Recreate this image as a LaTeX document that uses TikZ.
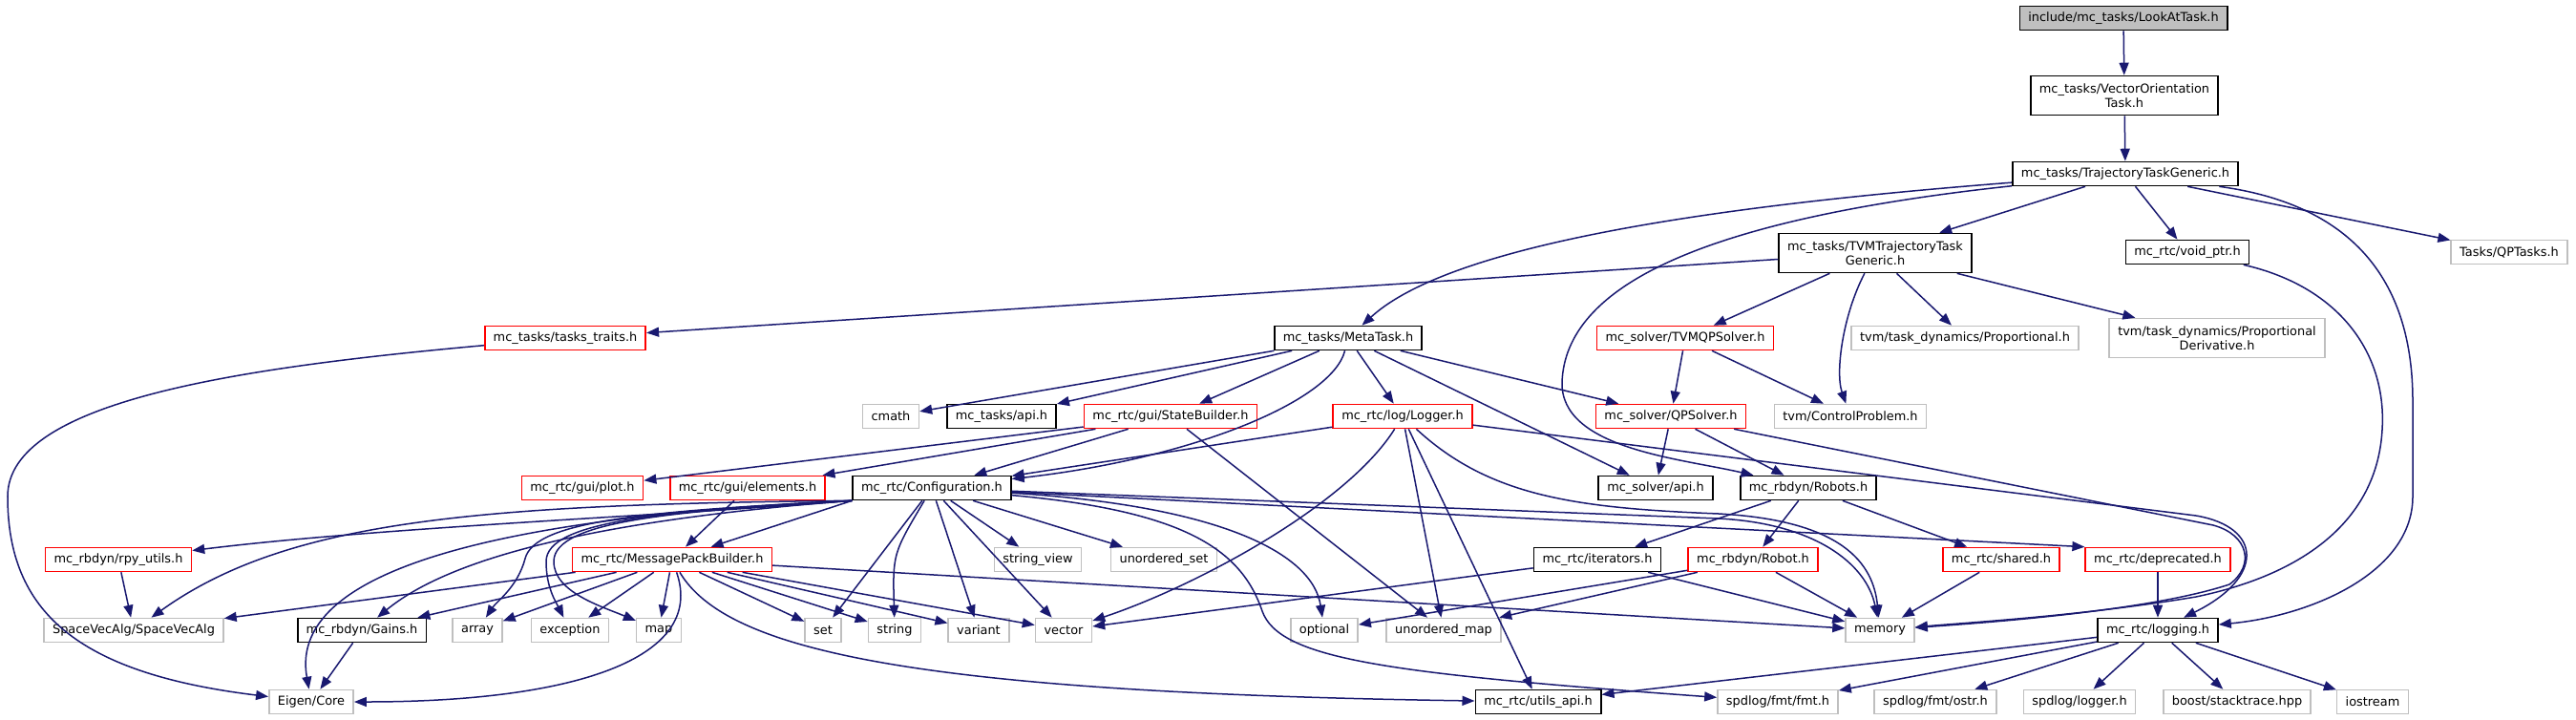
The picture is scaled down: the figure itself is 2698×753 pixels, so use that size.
\documentclass[tikz,border=0pt]{standalone}
\usepackage{fontspec}
\setmainfont{DejaVu Sans}
\usetikzlibrary{arrows.meta}
\definecolor{edgeBlue}{HTML}{191970}
\definecolor{nodeGray}{HTML}{BFBFBF}

\begin{document}
\begin{tikzpicture}[x=1pt, y=-1pt,
    baseNode/.style={rectangle, draw, fill=white, line width=1.6pt, minimum height=25pt, inner xsep=9pt, inner ysep=2pt, font=\fontsize{12.9}{15.2}\selectfont, align=center},
    plainNode/.style={baseNode, draw=black},
    redNode/.style={baseNode, draw=red},
    grayNode/.style={baseNode, draw=nodeGray},
    rootNode/.style={baseNode, draw=black, fill=nodeGray},
    twoLine/.style={minimum height=41pt},
    arrow/.style={->, >={Stealth[length=13pt, width=10pt, inset=0pt]}, draw=edgeBlue, line width=1.5pt}
  ]
  \useasboundingbox (0,0) rectangle (2698,753);

  % Top of the graph
  \node[rootNode] (lookat) at (2224,19) {include/mc\_tasks/LookAtTask.h};
  \node[plainNode, twoLine] (vecori) at (2225,100) {mc\_tasks/VectorOrientation\\Task.h};
  \node[plainNode] (ttg) at (2226,182) {mc\_tasks/TrajectoryTaskGeneric.h};
  \node[plainNode, twoLine] (tvmttg) at (1964,265) {mc\_tasks/TVMTrajectoryTask\\Generic.h};
  \node[plainNode] (voidptr) at (2291,264) {mc\_rtc/void\_ptr.h};
  \node[grayNode] (qptasks) at (2628,264) {Tasks/QPTasks.h};

  % Tasks and solvers
  \node[redNode] (traits) at (592,354) {mc\_tasks/tasks\_traits.h};
  \node[plainNode] (metatask) at (1412,354) {mc\_tasks/MetaTask.h};
  \node[redNode] (tvmqp) at (1765,354) {mc\_solver/TVMQPSolver.h};
  \node[grayNode] (tvmprop) at (2058,354) {tvm/task\_dynamics/Proportional.h};
  \node[grayNode, twoLine] (tvmpd) at (2322,354) {tvm/task\_dynamics/Proportional\\Derivative.h};

  \node[grayNode] (cmath) at (933,436) {cmath};
  \node[plainNode] (tasksapi) at (1049,436) {mc\_tasks/api.h};
  \node[redNode] (statebuilder) at (1226,436) {mc\_rtc/gui/StateBuilder.h};
  \node[redNode] (logger) at (1469,436) {mc\_rtc/log/Logger.h};
  \node[redNode] (qpsolver) at (1750,436) {mc\_solver/QPSolver.h};
  \node[grayNode] (ctrlprob) at (1938,436) {tvm/ControlProblem.h};

  \node[redNode] (plot) at (610,511) {mc\_rtc/gui/plot.h};
  \node[redNode] (elements) at (783,511) {mc\_rtc/gui/elements.h};
  \node[plainNode] (config) at (976,511) {mc\_rtc/Configuration.h};
  \node[plainNode] (solverapi) at (1734,511) {mc\_solver/api.h};
  \node[plainNode] (robots) at (1894,511) {mc\_rbdyn/Robots.h};

  \node[redNode] (rpy) at (124,586) {mc\_rbdyn/rpy\_utils.h};
  \node[redNode] (msgpack) at (704,586) {mc\_rtc/MessagePackBuilder.h};
  \node[grayNode] (strview) at (1087,586) {string\_view};
  \node[grayNode] (uset) at (1219,586) {unordered\_set};
  \node[plainNode] (iterators) at (1673,586) {mc\_rtc/iterators.h};
  \node[redNode] (robot) at (1836,586) {mc\_rbdyn/Robot.h};
  \node[redNode] (shared) at (2096,586) {mc\_rtc/shared.h};
  \node[redNode] (deprecated) at (2260,586) {mc\_rtc/deprecated.h};

  % Leaves
  \node[grayNode] (sva) at (140,660) {SpaceVecAlg/SpaceVecAlg};
  \node[plainNode] (gains) at (379,660) {mc\_rbdyn/Gains.h};
  \node[grayNode] (array) at (500,660) {array};
  \node[grayNode] (exception) at (597,660) {exception};
  \node[grayNode] (map) at (690,660) {map};
  \node[grayNode] (set) at (862,660) {set};
  \node[grayNode] (string) at (937,660) {string};
  \node[grayNode] (variant) at (1025,660) {variant};
  \node[grayNode] (vector) at (1114,660) {vector};
  \node[grayNode] (optional) at (1387,660) {optional};
  \node[grayNode] (umap) at (1512,660) {unordered\_map};
  \node[grayNode] (memory) at (1969,660) {memory};
  \node[plainNode] (logging) at (2260,660) {mc\_rtc/logging.h};

  \node[grayNode] (eigen) at (326,735) {Eigen/Core};
  \node[plainNode] (utilsapi) at (1611,735) {mc\_rtc/utils\_api.h};
  \node[grayNode] (fmt) at (1862,735) {spdlog/fmt/fmt.h};
  \node[grayNode] (ostr) at (2027,735) {spdlog/fmt/ostr.h};
  \node[grayNode] (spdlogger) at (2178,735) {spdlog/logger.h};
  \node[grayNode] (stacktrace) at (2343,735) {boost/stacktrace.hpp};
  \node[grayNode] (iostream) at (2485,735) {iostream};

  % Arrows from the top
  \draw[arrow] (lookat) -- (vecori);
  \draw[arrow] (vecori) -- (ttg);
  \draw[arrow] (ttg) -- (tvmttg);
  \draw[arrow] (ttg) -- (voidptr);
  \draw[arrow] (ttg) -- (qptasks);
  \draw[arrow] (ttg) .. controls (1800,215) and (1520,255) .. (metatask);
  \draw[arrow] (ttg) .. controls (1780,230) and (1640,300) .. (1636,400) .. controls (1634,470) and (1760,480) .. (robots);
  \draw[arrow] (ttg) .. controls (2470,215) and (2527,300) .. (2527,420) -- (2527,520) .. controls (2527,600) and (2420,645) .. (logging);
  \draw[arrow] (voidptr) .. controls (2450,300) and (2500,370) .. (2495,450) .. controls (2490,540) and (2420,600) .. (2300,625) .. controls (2180,645) and (2060,652) .. (memory);

  \draw[arrow] (tvmttg) -- (traits);
  \draw[arrow] (tvmttg) -- (tvmqp);
  \draw[arrow] (tvmttg) -- (tvmprop);
  \draw[arrow] (tvmttg) -- (tvmpd);
  \draw[arrow] (tvmttg) .. controls (1930,330) and (1922,390) .. (ctrlprob);
  \draw[arrow] (traits) .. controls (250,385) and (8,420) .. (8,520) .. controls (8,640) and (80,705) .. (eigen);

  % Arrows from MetaTask and the solvers
  \draw[arrow] (metatask) -- (cmath);
  \draw[arrow] (metatask) -- (tasksapi);
  \draw[arrow] (metatask) -- (statebuilder);
  \draw[arrow] (metatask) -- (logger);
  \draw[arrow] (metatask) -- (qpsolver);
  \draw[arrow] (metatask) -- (solverapi);
  \draw[arrow] (metatask) .. controls (1395,420) and (1250,480) .. (config);
  \draw[arrow] (tvmqp) -- (qpsolver);
  \draw[arrow] (tvmqp) -- (ctrlprob);
  \draw[arrow] (qpsolver) -- (solverapi);
  \draw[arrow] (qpsolver) -- (robots);
  \draw[arrow] (qpsolver) -- (2318,550) .. controls (2355,560) and (2362,592) .. (2335,612) .. controls (2250,640) and (2080,652) .. (memory);

  \draw[arrow] (statebuilder) -- (plot);
  \draw[arrow] (statebuilder) -- (elements);
  \draw[arrow] (statebuilder) -- (config);
  \draw[arrow] (statebuilder) -- (umap);

  \draw[arrow] (logger) -- (config);
  \draw[arrow] (logger) -- (umap);
  \draw[arrow] (logger) -- (utilsapi);
  \draw[arrow] (logger) .. controls (1410,530) and (1250,615) .. (vector);
  \draw[arrow] (logger) .. controls (1560,520) and (1650,532) .. (1800,538) .. controls (1930,545) and (1962,590) .. (memory);
  \draw[arrow] (logger) -- (2300,540) .. controls (2370,552) and (2372,605) .. (logging);

  % Arrows from Configuration
  \draw[arrow] (config.south west) .. controls (700,540) and (400,552) .. (rpy);
  \draw[arrow] (config.south west) .. controls (500,528) and (300,545) .. (sva);
  \draw[arrow] (config.south west) .. controls (550,540) and (300,590) .. (eigen);
  \draw[arrow] (config.south west) .. controls (620,545) and (470,585) .. (gains);
  \draw[arrow] (config.south west) .. controls (680,535) and (560,545) .. (550,585) .. controls (542,615) and (520,630) .. (array);
  \draw[arrow] (config.south west) .. controls (700,535) and (572,545) .. (572,588) .. controls (572,615) and (582,630) .. (exception);
  \draw[arrow] (config.south west) .. controls (710,535) and (580,545) .. (580,588) .. controls (580,620) and (630,635) .. (map);
  \draw[arrow] (config.south west) -- (msgpack);
  \draw[arrow] (config) -- (set);
  \draw[arrow] (config) .. controls (935,580) .. (string);
  \draw[arrow] (config) -- (variant);
  \draw[arrow] (config) -- (vector);
  \draw[arrow] (config) -- (strview);
  \draw[arrow] (config) -- (uset);
  \draw[arrow] (config) .. controls (1280,530) and (1375,580) .. (optional);
  \draw[arrow] (config) .. controls (1240,535) and (1300,575) .. (1322,640) .. controls (1340,690) and (1450,705) .. (fmt);
  \draw[arrow] (config) -- (1800,543) .. controls (1900,548) and (1955,590) .. (memory);
  \draw[arrow] (config) -- (deprecated.north west);

  % Arrows from the lower rows
  \draw[arrow] (elements) -- (msgpack);
  \draw[arrow] (rpy) -- (sva);
  \draw[arrow] (msgpack) -- (sva);
  \draw[arrow] (msgpack) -- (gains);
  \draw[arrow] (msgpack) -- (array);
  \draw[arrow] (msgpack) -- (exception);
  \draw[arrow] (msgpack) -- (map);
  \draw[arrow] (msgpack) -- (set);
  \draw[arrow] (msgpack) -- (string);
  \draw[arrow] (msgpack) -- (variant);
  \draw[arrow] (msgpack) -- (vector);
  \draw[arrow] (msgpack) .. controls (740,690) and (600,735) .. (eigen);
  \draw[arrow] (msgpack) .. controls (760,680) and (950,725) .. (utilsapi);
  \draw[arrow] (msgpack) -- (memory);
  \draw[arrow] (gains) -- (eigen);

  \draw[arrow] (robots) -- (iterators);
  \draw[arrow] (robots) -- (robot);
  \draw[arrow] (robots) -- (shared);
  \draw[arrow] (iterators) -- (vector);
  \draw[arrow] (iterators) -- (memory);
  \draw[arrow] (robot) -- (optional);
  \draw[arrow] (robot) -- (umap);
  \draw[arrow] (robot) -- (memory);
  \draw[arrow] (shared) -- (memory);
  \draw[arrow] (deprecated) -- (logging);

  \draw[arrow] (logging) -- (utilsapi);
  \draw[arrow] (logging) -- (fmt);
  \draw[arrow] (logging) -- (ostr);
  \draw[arrow] (logging) -- (spdlogger);
  \draw[arrow] (logging) -- (stacktrace);
  \draw[arrow] (logging) -- (iostream);

\end{tikzpicture}
\end{document}
